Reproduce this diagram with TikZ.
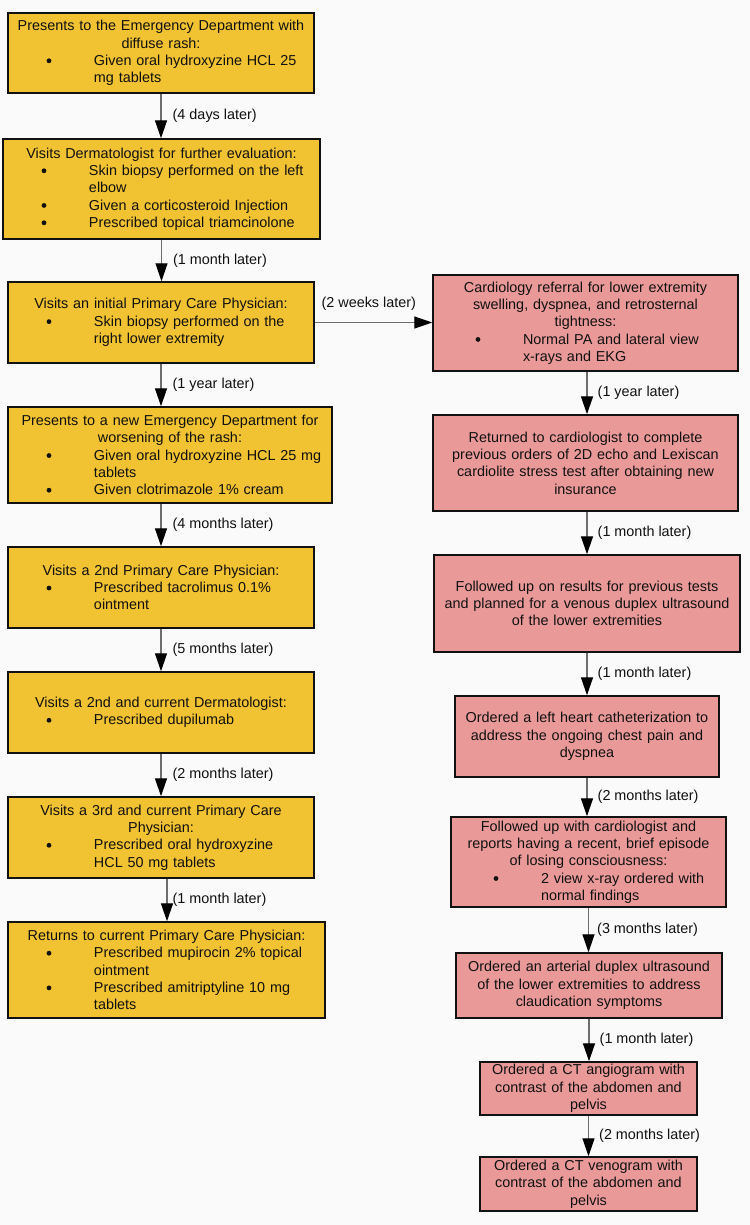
\documentclass[tikz,border=0pt]{standalone}
\usepackage{fontspec}
\setmainfont{Liberation Sans}
\usetikzlibrary{arrows.meta}
\definecolor{yel}{HTML}{F1C232}
\definecolor{pnk}{HTML}{EA9999}
\definecolor{txt}{HTML}{111111}
\definecolor{lgrey}{HTML}{6E6E6E}
\definecolor{bg}{HTML}{FAFAFA}
\newdimen\px \px=0.75pt
\newdimen\bulpos \newdimen\txtpos
\newcommand\fs{\fontsize{10.8pt}{13pt}\selectfont}
\newcommand\nl{\unskip\nobreak\hfil\break}
\newcommand\bdot{\tikz[baseline=-0.32em]\fill[txt] (0,0) circle (2.4\px);}
\newcommand\itm[1]{\par\raggedright\hangindent=\txtpos\hangafter=1\noindent\makebox[\txtpos][l]{\hspace{\bulpos}\bdot}#1\par}
\newcommand\hd[1]{{\centering #1\par}}
\tikzset{
  box/.style={draw=txt, line width=1.5\px, text=txt, inner xsep=4\px, inner ysep=0pt, font=\fs},
  ybox/.style={box, fill=yel, execute at begin node={\bulpos=34.6\px\txtpos=82\px}},
  pbox/.style={box, fill=pnk, execute at begin node={\bulpos=38.6\px\txtpos=86\px}},
  conn/.style={draw=lgrey, line width=1.4\px, -{Triangle[length=13.5pt, width=9pt, color=black]}},
  lab/.style={font=\fs, text=txt, inner sep=0pt, anchor=west}
}
\begin{document}
\begin{tikzpicture}[x=0.75pt, y=-0.75pt]
\fill[bg] (0,0) rectangle (750,1225);
\useasboundingbox (0,0) rectangle (750,1225);
% left column
\node[ybox, minimum width=306\px, minimum height=80\px, text width=298\px] (L1) at (161,53)
 {\hd{Presents to the Emergency Department with\\ diffuse rash:}\itm{Given oral hydroxyzine HCL 25\nl mg tablets}};
\node[ybox, minimum width=317\px, minimum height=100\px, text width=309\px] (L2) at (161.5,189)
 {\hd{Visits Dermatologist for further evaluation:}\itm{Skin biopsy performed on the left\nl elbow}\itm{Given a corticosteroid Injection}\itm{Prescribed topical triamcinolone}};
\node[ybox, minimum width=306\px, minimum height=81\px, text width=298\px] (L3) at (161,322.5)
 {\hd{Visits an initial Primary Care Physician:}\itm{Skin biopsy performed on the\nl right lower extremity}};
\node[ybox, minimum width=324\px, minimum height=96\px, text width=316\px] (L4) at (170,455)
 {\hd{Presents to a new Emergency Department for\\ worsening of the rash:}\itm{Given oral hydroxyzine HCL 25 mg\nl tablets}\itm{Given clotrimazole 1\% cream}};
\node[ybox, minimum width=306\px, minimum height=81\px, text width=298\px] (L5) at (161,587.5)
 {\hd{Visits a 2nd Primary Care Physician:}\itm{Prescribed tacrolimus 0.1\%\nl ointment}};
\node[ybox, minimum width=306\px, minimum height=81\px, text width=298\px] (L6) at (161,712.5)
 {\hd{Visits a 2nd and current Dermatologist:}\itm{Prescribed dupilumab}};
\node[ybox, minimum width=306\px, minimum height=81\px, text width=298\px] (L7) at (161,837.5)
 {\hd{Visits a 3rd and current Primary Care\\ Physician:}\itm{Prescribed oral hydroxyzine\nl HCL 50 mg tablets}};
\node[ybox, minimum width=317\px, minimum height=96\px, text width=309\px] (L8) at (166.5,970)
 {\hd{Returns to current Primary Care Physician:}\itm{Prescribed mupirocin 2\% topical\nl ointment}\itm{Prescribed amitriptyline 10 mg\nl tablets}};
% right column
\node[pbox, minimum width=305\px, minimum height=96\px, text width=297\px] (R1) at (585.5,323)
 {\hd{Cardiology referral for lower extremity\\ swelling, dyspnea, and retrosternal\\ tightness:}\itm{Normal PA and lateral view\nl x-rays and EKG}};
\node[pbox, minimum width=305\px, minimum height=96\px, text width=297\px] (R2) at (585.5,463)
 {\hd{Returned to cardiologist to complete\\ previous orders of 2D echo and Lexiscan\\ cardiolite stress test after obtaining new\\ insurance}};
\node[pbox, minimum width=306\px, minimum height=97\px, text width=298\px] (R3) at (587,603.5)
 {\hd{Followed up on results for previous tests\\ and planned for a venous duplex ultrasound\\ of the lower extremities}};
\node[pbox, minimum width=264\px, minimum height=81\px, text width=256\px] (R4) at (587,736.5)
 {\hd{Ordered a left heart catheterization to\\ address the ongoing chest pain and\\ dyspnea}};
\node[pbox, minimum width=275\px, minimum height=90\px, text width=267\px] (R5) at (588.5,862)
 {\hd{Followed up with cardiologist and\\ reports having a recent, brief episode\\ of losing consciousness:}\itm{2 view x-ray ordered with\nl normal findings}};
\node[pbox, minimum width=266\px, minimum height=65\px, text width=258\px] (R6) at (589,985.5)
 {\hd{Ordered an arterial duplex ultrasound\\ of the lower extremities to address\\ claudication symptoms}};
\node[pbox, minimum width=217\px, minimum height=53\px, text width=209\px] (R7) at (588.5,1088.5)
 {\hd{Ordered a CT angiogram with\\ contrast of the abdomen and\\ pelvis}};
\node[pbox, minimum width=217\px, minimum height=54\px, text width=209\px] (R8) at (588.5,1184)
 {\hd{Ordered a CT venogram with\\ contrast of the abdomen and\\ pelvis}};
% connectors left
\draw[conn] (L1.south) -- node[lab, xshift=11\px]{(4 days later)} (L1.south |- L2.north);
\draw[conn] (L2.south) -- node[lab, xshift=11\px]{(1 month later)} (L2.south |- L3.north);
\draw[conn] (L3.south) -- node[lab, xshift=11\px]{(1 year later)} (L3.south |- L4.north);
\draw[conn] (L3.south |- L4.south) -- node[lab, xshift=11\px]{(4 months later)} (L3.south |- L5.north);
\draw[conn] (L5.south) -- node[lab, xshift=11\px]{(5 months later)} (L5.south |- L6.north);
\draw[conn] (L6.south) -- node[lab, xshift=11\px]{(2 months later)} (L6.south |- L7.north);
\draw[conn] ([xshift=6\px]L7.south) -- node[lab, xshift=5\px]{(1 month later)} ([xshift=6\px]L7.south |- L8.north);
% cross connector
\draw[conn] (L3.east) -- node[lab, anchor=south, pos=0.46, yshift=11\px]{(2 weeks later)} (L3.east -| R1.west);
% connectors right
\draw[conn] ([xshift=1.5\px]R1.south) -- node[lab, xshift=10\px]{(1 year later)} ([xshift=1.5\px]R1.south |- R2.north);
\draw[conn] ([xshift=1.5\px]R2.south) -- node[lab, xshift=10\px]{(1 month later)} ([xshift=1.5\px]R2.south |- R3.north);
\draw[conn] (R3.south) -- node[lab, xshift=10\px]{(1 month later)} (R3.south |- R4.north);
\draw[conn] (R4.south) -- node[lab, xshift=10\px]{(2 months later)} (R4.south |- R5.north);
\draw[conn] (R5.south) -- node[lab, xshift=8\px]{(3 months later)} (R5.south |- R6.north);
\draw[conn] (R6.south) -- node[lab, xshift=10\px]{(1 month later)} (R6.south |- R7.north);
\draw[conn] (R7.south) -- node[lab, xshift=10\px]{(2 months later)} (R7.south |- R8.north);
\end{tikzpicture}
\end{document}
